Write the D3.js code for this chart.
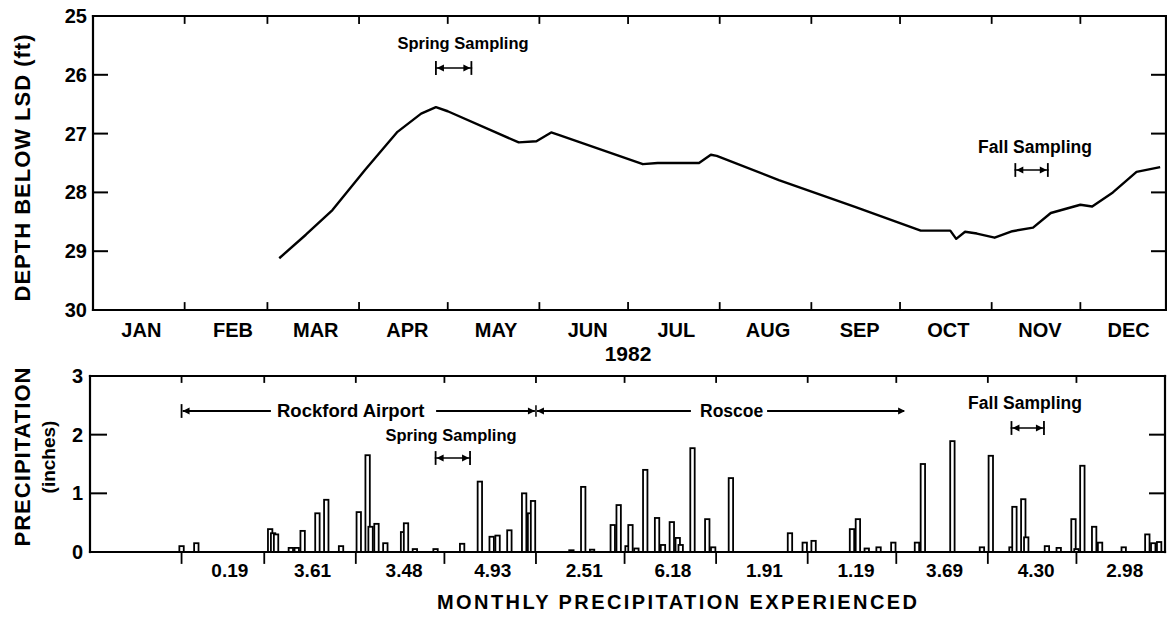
<!DOCTYPE html>
<html><head><meta charset="utf-8">
<script src="https://cdn.jsdelivr.net/npm/d3@7"></script>
<style>
body{margin:0;background:#fff}
svg text{font-family:"Liberation Sans",Arial,Helvetica,sans-serif;font-weight:bold;fill:#000}
</style>
</head><body>
<svg id="chart" width="1167" height="617"></svg>
<script>
// ---------- DATA ----------
const levelDates = ["1982-03-05","1982-03-14","1982-03-23","1982-04-03","1982-04-14","1982-04-22","1982-04-27","1982-05-01",
  "1982-05-25","1982-05-31","1982-06-05","1982-06-08",
  "1982-07-06","1982-07-11","1982-07-15","1982-07-25","1982-07-29","1982-07-31","1982-08-21","1982-09-16",
  "1982-10-08","1982-10-18","1982-10-20","1982-10-23","1982-10-27","1982-11-02","1982-11-08","1982-11-15",
  "1982-11-21","1982-12-01","1982-12-05","1982-12-12","1982-12-20","1982-12-28"];
const levelDepths = [29.12,28.72,28.30,27.62,26.97,26.66,26.55,26.62,
  27.15,27.13,26.98,27.03,
  27.52,27.50,27.50,27.50,27.36,27.38,27.79,28.25,
  28.65,28.65,28.79,28.67,28.70,28.77,28.66,28.60,
  28.35,28.21,28.24,28.00,27.65,27.57];

const precipDates = ["1982-02-01","1982-02-06","1982-03-03","1982-03-04","1982-03-05","1982-03-10","1982-03-12",
  "1982-03-14","1982-03-19","1982-03-22","1982-03-27","1982-04-02","1982-04-05","1982-04-06","1982-04-08",
  "1982-04-11","1982-04-17","1982-04-18","1982-04-21","1982-04-28","1982-05-07","1982-05-13","1982-05-17",
  "1982-05-19","1982-05-23","1982-05-28","1982-05-30","1982-05-31","1982-06-13","1982-06-17","1982-06-20",
  "1982-06-27","1982-06-29","1982-07-02","1982-07-03","1982-07-05","1982-07-08","1982-07-12","1982-07-14",
  "1982-07-17","1982-07-19","1982-07-20","1982-07-24","1982-07-29","1982-07-31","1982-08-06","1982-08-26",
  "1982-08-31","1982-09-03","1982-09-16","1982-09-18","1982-09-21","1982-09-25","1982-09-30","1982-10-08",
  "1982-10-10","1982-10-20","1982-10-30","1982-11-02","1982-11-09","1982-11-10","1982-11-13","1982-11-14",
  "1982-11-21","1982-11-25","1982-11-30","1982-12-01","1982-12-03","1982-12-07","1982-12-09","1982-12-17",
  "1982-12-25","1982-12-27","1982-12-29"];
const precipInches = [0.10,0.15,0.39,0.32,0.30,0.07,0.07,
  0.36,0.66,0.89,0.10,0.68,1.65,0.43,0.48,
  0.15,0.34,0.49,0.05,0.05,0.14,1.20,0.26,
  0.28,0.37,1.00,0.66,0.87,0.03,1.11,0.04,
  0.46,0.80,0.10,0.46,0.06,1.40,0.58,0.12,
  0.51,0.24,0.12,1.77,0.56,0.08,1.26,0.32,
  0.16,0.19,0.39,0.56,0.06,0.08,0.16,0.16,
  1.50,1.89,0.08,1.64,0.08,0.77,0.90,0.25,
  0.10,0.07,0.56,0.05,1.47,0.43,0.16,0.08,
  0.30,0.15,0.17];

const monthLabels = ["JAN","FEB","MAR","APR","MAY","JUN","JUL","AUG","SEP","OCT","NOV","DEC"];
const monthlyTotals = ["","0.19","3.61","3.48","4.93","2.51","6.18","1.91","1.19","3.69","4.30","2.98"];
const depthTicks = [25,26,27,28,29,30];
const precipTicks = [0,1,2,3];
const springSampling = ["1982-04-27","1982-05-09"];
const fallSampling = ["1982-11-09","1982-11-20"];
const rockfordPeriod = ["1982-02-01","1982-06-01"];
const roscoePeriod = ["1982-06-01","1982-10-04"];

(function () {
const parse = d3.utcParse("%Y-%m-%d");
const yearStart = parse("1982-01-01"), yearEnd = parse("1983-01-01");
const months = d3.utcMonth.range(yearStart, yearEnd);
const innerMonthBounds = months.slice(1);
const svg = d3.select("#chart");
const K = "#000";

function line(g, x1, y1, x2, y2, w) {
  g.append("line").attr("x1", x1).attr("y1", y1).attr("x2", x2).attr("y2", y2)
    .attr("stroke", K).attr("stroke-width", w || 2).attr("stroke-linecap", "square");
}
function arrowHead(g, x, y, dir) {
  g.append("path").attr("d", `M${x},${y}L${x - dir * 7},${y - 3.5}L${x - dir * 7},${y + 3.5}Z`).attr("fill", K);
}
function bracket(g, x1, x2, y) {
  line(g, x1, y - 6, x1, y + 6, 1.8);
  line(g, x2, y - 6, x2, y + 6, 1.8);
  line(g, x1, y, x2, y, 1.6);
  arrowHead(g, x1 + 1, y, -1);
  arrowHead(g, x2 - 1, y, 1);
}

// ---------- TOP PANEL ----------
const topG = svg.append("g");
const xTop = d3.scaleUtc().domain([yearStart, yearEnd]).range([93, 1172]);
const yTop = d3.scaleLinear().domain([25, 30]).range([16, 310]);
const tL = 93, tR = 1166, tT = yTop(25), tB = yTop(30);

line(topG, tL, tT, tR, tT, 2.2);
line(topG, tL, tB, tR, tB, 2.2);
line(topG, tL, tT, tL, tB, 2.2);
line(topG, tR, tT, tR, tB, 2.2);

innerMonthBounds.forEach(m => {
  line(topG, xTop(m), tT, xTop(m), tT + 7, 1.8);
  line(topG, xTop(m), tB, xTop(m), tB - 7, 1.8);
});
depthTicks.slice(1, -1).forEach(v => {
  line(topG, tL, yTop(v), tL + 14, yTop(v), 2);
  line(topG, tR, yTop(v), tR - 14, yTop(v), 2);
});
topG.selectAll("text.dl").data(depthTicks).join("text").attr("class", "dl")
  .attr("x", 87).attr("y", d => yTop(d) + 7).attr("text-anchor", "end")
  .style("font-size", "20px").text(d => d);

topG.selectAll("text.ml").data(months).join("text").attr("class", "ml")
  .attr("x", d => xTop(d3.utcDay.offset(d, 15)) + 4).attr("y", 337)
  .attr("text-anchor", "middle").style("font-size", "20px").text((d, i) => monthLabels[i]);
topG.append("text").attr("x", 628).attr("y", 361).attr("text-anchor", "middle")
  .style("font-size", "21px").text("1982");

topG.append("text").attr("transform", "translate(30,168) rotate(-90)").attr("text-anchor", "middle")
  .style("font-size", "22px").attr("textLength", 267).attr("lengthAdjust", "spacing")
  .text("DEPTH BELOW LSD (ft)");

const levelLine = d3.line().x(d => xTop(d[0])).y(d => yTop(d[1]));
topG.append("path").datum(levelDates.map((d, i) => [parse(d), levelDepths[i]]))
  .attr("d", levelLine).attr("fill", "none").attr("stroke", K).attr("stroke-width", 2.4)
  .attr("stroke-linejoin", "round");

topG.append("text").attr("x", 463).attr("y", 49).attr("text-anchor", "middle")
  .style("font-size", "16.5px").text("Spring Sampling");
bracket(topG, xTop(parse(springSampling[0])), xTop(parse(springSampling[1])), 68);
topG.append("text").attr("x", 1035).attr("y", 153).attr("text-anchor", "middle")
  .style("font-size", "17.5px").text("Fall Sampling");
bracket(topG, xTop(parse(fallSampling[0])), xTop(parse(fallSampling[1])), 170);

// ---------- BOTTOM PANEL ----------
const botG = svg.append("g");
const xBot = d3.scaleUtc().domain([yearStart, yearEnd]).range([90, 1168]);
const yBot = d3.scaleLinear().domain([0, 3]).range([552, 376]);
const bL = 90, bR = 1165, bT = yBot(3), bB = yBot(0);

const bars = precipDates.map((d, i) => ({ date: parse(d), v: precipInches[i] }));
botG.selectAll("rect.bar").data(bars).join("rect").attr("class", "bar")
  .attr("x", d => xBot(d.date) - 2.2).attr("width", 4.4)
  .attr("y", d => yBot(d.v)).attr("height", d => bB - yBot(d.v))
  .attr("fill", "#fff").attr("stroke", K).attr("stroke-width", 1.8);

line(botG, bL, bT, bR, bT, 2.2);
line(botG, bL, bB, bR, bB, 2.2);
line(botG, bL, bT, bL, bB, 2.2);
line(botG, bR, bT, bR, bB, 2.2);
innerMonthBounds.forEach(m => {
  line(botG, xBot(m), bT, xBot(m), bT + 6, 1.8);
  line(botG, xBot(m), bB, xBot(m), bB + 11, 1.8);
});
precipTicks.slice(1, -1).forEach(v => {
  line(botG, bL, yBot(v), bL + 16, yBot(v), 2);
  line(botG, bR, yBot(v), bR - 15, yBot(v), 2);
});
botG.selectAll("text.pl").data(precipTicks).join("text").attr("class", "pl")
  .attr("x", 83).attr("y", d => yBot(d) + 7).attr("text-anchor", "end")
  .style("font-size", "20px").text(d => d);

botG.selectAll("text.mt").data(months).join("text").attr("class", "mt")
  .attr("x", d => xBot(d3.utcDay.offset(d, 15)) + 4).attr("y", 577)
  .attr("text-anchor", "middle").style("font-size", "19px").text((d, i) => monthlyTotals[i]);

botG.append("text").attr("x", 677).attr("y", 609).attr("text-anchor", "middle")
  .style("font-size", "20px").attr("textLength", 480).attr("lengthAdjust", "spacing")
  .text("MONTHLY PRECIPITATION EXPERIENCED");

botG.append("text").attr("transform", "translate(30,457) rotate(-90)").attr("text-anchor", "middle")
  .style("font-size", "22px").attr("textLength", 179).attr("lengthAdjust", "spacing").text("PRECIPITATION");
botG.append("text").attr("transform", "translate(55,457) rotate(-90)").attr("text-anchor", "middle")
  .style("font-size", "19px").text("(inches)");

const sy = 411;
const xr0 = xBot(parse(rockfordPeriod[0])), xr1 = xBot(parse(rockfordPeriod[1]));
const xs1 = xBot(parse(roscoePeriod[1]));
line(botG, xr0, sy - 6, xr0, sy + 6, 1.8);
arrowHead(botG, xr0 + 1, sy, -1);
line(botG, xr0 + 2, sy, 270, sy, 1.8);
botG.append("text").attr("x", 277).attr("y", sy + 6).style("font-size", "18.5px").text("Rockford Airport");
line(botG, 437, sy, xr1 - 2, sy, 1.8);
arrowHead(botG, xr1 - 1, sy, 1);
line(botG, xr1, sy - 5, xr1, sy + 5, 1.5);
arrowHead(botG, xr1 + 1, sy, -1);
line(botG, xr1 + 2, sy, 690, sy, 1.8);
botG.append("text").attr("x", 700).attr("y", sy + 6).style("font-size", "17.5px").text("Roscoe");
line(botG, 768, sy, xs1 - 2, sy, 1.8);
arrowHead(botG, xs1, sy, 1);

botG.append("text").attr("x", 451).attr("y", 441).attr("text-anchor", "middle")
  .style("font-size", "16.5px").text("Spring Sampling");
bracket(botG, xBot(parse(springSampling[0])) + 3, xBot(parse(springSampling[1])) + 2, 458);
botG.append("text").attr("x", 1025).attr("y", 409).attr("text-anchor", "middle")
  .style("font-size", "17.5px").text("Fall Sampling");
bracket(botG, xBot(parse(fallSampling[0])), xBot(parse(fallSampling[1])), 428);
})();
</script>
</body></html>
